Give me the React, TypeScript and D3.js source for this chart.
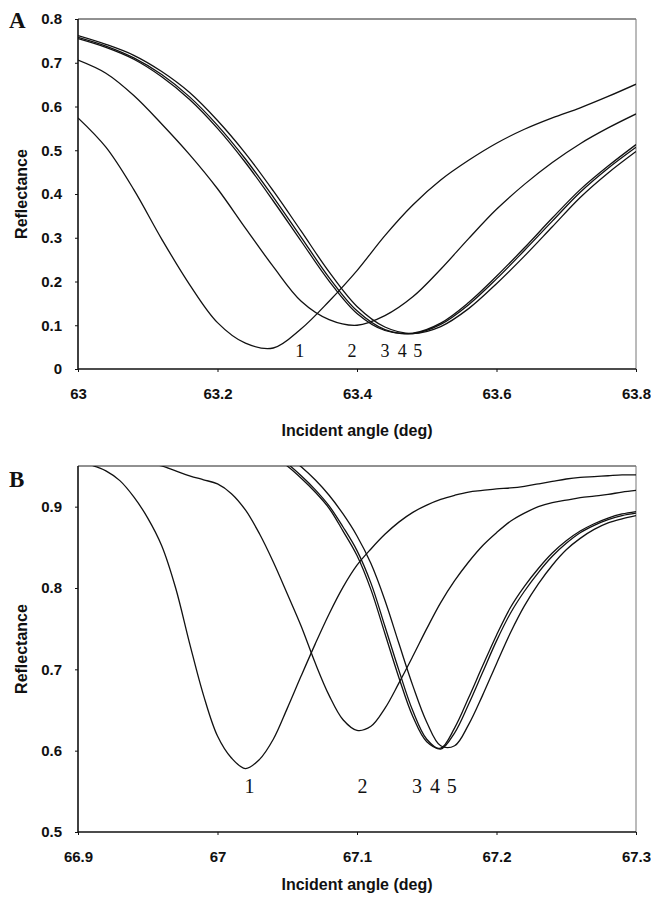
import React, { useEffect, useRef } from "react";
import * as d3 from "d3";

// panel A: incident angle grid and reflectance of the five curves
const anglesA = [63.0, 63.04, 63.08, 63.12, 63.16, 63.2, 63.24, 63.28, 63.32, 63.36, 63.4,
  63.44, 63.48, 63.52, 63.56, 63.6, 63.64, 63.68, 63.72, 63.76, 63.8];
const curveA1 = [0.574, 0.507, 0.41, 0.297, 0.193, 0.106, 0.059, 0.048, 0.092, 0.155, 0.225,
  0.305, 0.375, 0.432, 0.477, 0.516, 0.548, 0.574, 0.597, 0.623, 0.651];
const curveA2 = [0.706, 0.676, 0.625, 0.56, 0.49, 0.412, 0.322, 0.234, 0.155, 0.113, 0.1,
  0.122, 0.165, 0.228, 0.298, 0.365, 0.422, 0.472, 0.515, 0.551, 0.583];
const curveA3 = [0.755, 0.735, 0.708, 0.668, 0.616, 0.55, 0.472, 0.384, 0.292, 0.201, 0.127,
  0.088, 0.082, 0.105, 0.152, 0.212, 0.277, 0.345, 0.41, 0.464, 0.513];
const curveA4 = [0.758, 0.738, 0.711, 0.673, 0.622, 0.557, 0.48, 0.393, 0.301, 0.209, 0.133,
  0.09, 0.081, 0.102, 0.147, 0.206, 0.271, 0.338, 0.404, 0.459, 0.507];
const curveA5 = [0.762, 0.742, 0.717, 0.68, 0.632, 0.568, 0.493, 0.407, 0.315, 0.222, 0.143,
  0.096, 0.081, 0.097, 0.138, 0.195, 0.258, 0.325, 0.392, 0.448, 0.497];

// panel B (null = above the plotted range)
const anglesB = [66.9, 66.91, 66.92, 66.93, 66.94, 66.95, 66.96, 66.97, 66.98, 66.99, 67.0,
  67.01, 67.02, 67.03, 67.04, 67.05, 67.06, 67.07, 67.08, 67.09, 67.1,
  67.11, 67.12, 67.13, 67.14, 67.15, 67.16, 67.17, 67.18, 67.19, 67.2,
  67.21, 67.22, 67.23, 67.24, 67.25, 67.26, 67.27, 67.28, 67.29, 67.3];
const curveB1 = [0.958, 0.951, 0.944, 0.932, 0.912, 0.886, 0.852, 0.8, 0.732, 0.668, 0.618,
  0.591, 0.578, 0.589, 0.614, 0.652, 0.692, 0.731, 0.768, 0.801, 0.828,
  0.848, 0.866, 0.881, 0.893, 0.902, 0.909, 0.914, 0.918, 0.92, 0.922,
  0.923, 0.925, 0.928, 0.931, 0.934, 0.936, 0.937, 0.938, 0.939, 0.939];
const curveB2 = [null, null, null, null, null, 0.954, 0.95, 0.944, 0.938, 0.933, 0.928,
  0.916, 0.896, 0.867, 0.832, 0.793, 0.753, 0.708, 0.668, 0.638, 0.625,
  0.63, 0.652, 0.683, 0.716, 0.75, 0.782, 0.809, 0.832, 0.852, 0.868,
  0.882, 0.892, 0.9, 0.905, 0.908, 0.911, 0.913, 0.915, 0.918, 0.92];
const curveB3 = [null, null, null, null, null, null, null, null, null, null, null,
  null, null, null, 0.962, 0.95, 0.935, 0.918, 0.898, 0.87, 0.84,
  0.798, 0.744, 0.69, 0.642, 0.611, 0.603, 0.628, 0.665, 0.704, 0.742,
  0.776, 0.802, 0.824, 0.843, 0.858, 0.87, 0.879, 0.886, 0.891, 0.894];
const curveB4 = [null, null, null, null, null, null, null, null, null, null, null,
  null, null, null, 0.965, 0.953, 0.938, 0.921, 0.901, 0.875, 0.846,
  0.806, 0.753, 0.699, 0.649, 0.614, 0.602, 0.622, 0.657, 0.696, 0.735,
  0.769, 0.796, 0.819, 0.839, 0.855, 0.868, 0.877, 0.884, 0.889, 0.892];
const curveB5 = [null, null, null, null, null, null, null, null, null, null, null,
  null, null, null, 0.975, 0.963, 0.949, 0.933, 0.914, 0.891, 0.864,
  0.83, 0.785, 0.732, 0.68, 0.635, 0.606, 0.606, 0.632, 0.668, 0.707,
  0.745, 0.778, 0.805, 0.828, 0.847, 0.861, 0.872, 0.88, 0.885, 0.889];

// ticks
const xTicksA = [63, 63.2, 63.4, 63.6, 63.8];
const yTicksA = [0, 0.1, 0.2, 0.3, 0.4, 0.5, 0.6, 0.7, 0.8];
const xTicksB = [66.9, 67, 67.1, 67.2, 67.3];
const yTicksB = [0.5, 0.6, 0.7, 0.8, 0.9];

// curve number labels and where they sit (angle, reflectance)
const curveNames = ["1", "2", "3", "4", "5"];
const labelAnglesA = [63.318, 63.393, 63.44, 63.465, 63.487];
const labelAnglesB = [67.023, 67.104, 67.143, 67.156, 67.168];

const W = 651;
const H = 897;
const LEFT = 78;
const RIGHT = 636;

const panels = [
  {
    id: "A", angles: anglesA, curves: [curveA1, curveA2, curveA3, curveA4, curveA5],
    xDomain: [63, 63.8], yDomain: [0, 0.8], xTicks: xTicksA, yTicks: yTicksA,
    top: 19, bottom: 369, letterY: 28, labelAngles: labelAnglesA, labelR: 0.027, labelSize: 18,
    titleY: 436,
  },
  {
    id: "B", angles: anglesB, curves: [curveB1, curveB2, curveB3, curveB4, curveB5],
    xDomain: [66.9, 67.3], yDomain: [0.5, 0.95], xTicks: xTicksB, yTicks: yTicksB,
    top: 466, bottom: 832, letterY: 487, labelAngles: labelAnglesB, labelR: 0.548, labelSize: 20,
    titleY: 890,
  },
];

const fmt = (d: number) => (d === 0 ? "0" : String(d));

export default function App() {
  const ref = useRef<SVGSVGElement>(null);

  useEffect(() => {
    const svg = d3.select(ref.current);
    svg.selectAll("*").remove();

    panels.forEach(p => {
      const x = d3.scaleLinear().domain(p.xDomain).range([LEFT, RIGHT]);
      const y = d3.scaleLinear().domain(p.yDomain).range([p.bottom, p.top]);
      const g = svg.append("g");

      const clipId = "clip-" + p.id;
      g.append("clipPath").attr("id", clipId)
        .append("rect")
        .attr("x", LEFT).attr("y", p.top)
        .attr("width", RIGHT - LEFT).attr("height", p.bottom - p.top);

      // frame: top and right border
      g.append("line")
        .attr("x1", LEFT).attr("x2", RIGHT).attr("y1", p.top).attr("y2", p.top)
        .attr("stroke", "#222").attr("stroke-width", 1);
      g.append("line")
        .attr("x1", RIGHT).attr("x2", RIGHT).attr("y1", p.top).attr("y2", p.bottom)
        .attr("stroke", "#777").attr("stroke-width", 1);

      // curves
      const line = d3.line<number | null>()
        .defined(d => d != null)
        .x((d, i) => x(p.angles[i]))
        .y(d => y(d as number))
        .curve(d3.curveCatmullRom.alpha(0.5));

      p.curves.forEach(c => {
        g.append("path")
          .attr("clip-path", `url(#${clipId})`)
          .attr("d", line(c))
          .attr("fill", "none")
          .attr("stroke", "#111")
          .attr("stroke-width", 1.3);
      });

      // axes
      const xAxis = g.append("g")
        .attr("transform", `translate(0, ${p.bottom})`)
        .call(d3.axisBottom(x).tickValues(p.xTicks).tickFormat(d => fmt(+d)).tickSize(3).tickPadding(16));
      const yAxis = g.append("g")
        .attr("transform", `translate(${LEFT}, 0)`)
        .call(d3.axisLeft(y).tickValues(p.yTicks).tickFormat(d => fmt(+d)).tickSize(3).tickPadding(13));

      [xAxis, yAxis].forEach(a => {
        a.select(".domain").attr("stroke", "#111").attr("stroke-width", 1.6);
        a.selectAll(".tick line").attr("stroke", "#111");
        a.selectAll("text")
          .attr("font-family", "'Liberation Sans', Arial, sans-serif")
          .attr("font-weight", "bold")
          .attr("font-size", 15)
          .attr("fill", "#111");
      });
      // let the axis lines span the full panel
      yAxis.select(".domain").attr("d", `M-0,${p.top}V${p.bottom}`);
      xAxis.select(".domain").attr("d", `M${LEFT},0H${RIGHT}`);

      // axis titles
      g.append("text")
        .attr("x", (LEFT + RIGHT) / 2).attr("y", p.titleY)
        .attr("text-anchor", "middle")
        .attr("font-family", "'Liberation Sans', Arial, sans-serif")
        .attr("font-weight", "bold").attr("font-size", 16).attr("fill", "#111")
        .text("Incident angle (deg)");
      g.append("text")
        .attr("transform", `translate(27, ${(p.top + p.bottom) / 2}) rotate(-90)`)
        .attr("text-anchor", "middle")
        .attr("font-family", "'Liberation Sans', Arial, sans-serif")
        .attr("font-weight", "bold").attr("font-size", 16).attr("fill", "#111")
        .text("Reflectance");

      // panel letter
      g.append("text")
        .attr("x", 9).attr("y", p.letterY)
        .attr("font-family", "'Liberation Serif', 'Times New Roman', serif")
        .attr("font-weight", "bold").attr("font-size", 23).attr("fill", "#111")
        .text(p.id);

      // curve numbers
      curveNames.forEach((name, i) => {
        g.append("text")
          .attr("x", x(p.labelAngles[i])).attr("y", y(p.labelR))
          .attr("text-anchor", "middle")
          .attr("font-family", "'Liberation Serif', 'Times New Roman', serif")
          .attr("font-size", p.labelSize).attr("fill", "#111")
          .text(name);
      });
    });
  }, []);

  return (
    <svg
      ref={ref}
      width={W}
      height={H}
      style={{ position: "absolute", left: 0, top: 0, background: "#fff" }}
    />
  );
}
